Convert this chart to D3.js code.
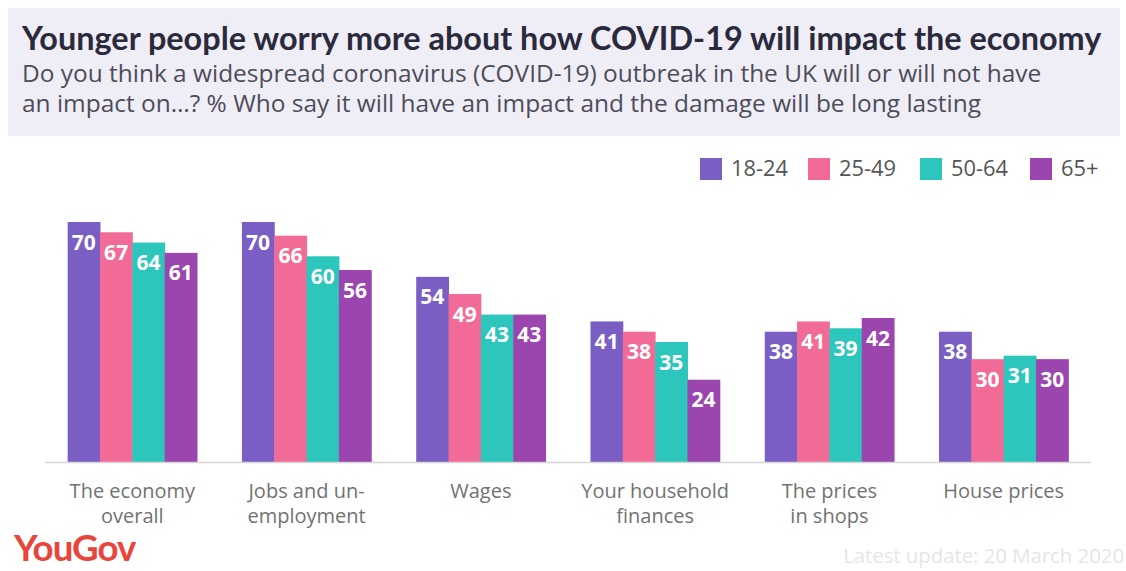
<!DOCTYPE html>
<html>
<head>
<meta charset="utf-8">
<script src="https://cdn.jsdelivr.net/npm/d3@7"></script>
<style>
  html, body { margin: 0; padding: 0; background: #fff; }
  svg { display: block; font-family: "Open Sans", Lato, sans-serif; }
</style>
</head>
<body>
<svg id="chart" width="1126" height="571"></svg>
<script>
// Survey categories and age groups
const categories = [
  ["The economy", "overall"],
  ["Jobs and un-", "employment"],
  ["Wages"],
  ["Your household", "finances"],
  ["The prices", "in shops"],
  ["House prices"]
];
const ageGroups = ["18-24", "25-49", "50-64", "65+"];
const colors = ["#7a5ec4", "#f26b96", "#2cc6bd", "#9b45ae"];

// % who say impact will be long lasting, per age group
const age18to24 = [70, 70, 54, 41, 38, 38];
const age25to49 = [67, 66, 49, 38, 41, 30];
const age50to64 = [64, 60, 43, 35, 39, 31];
const age65plus = [61, 56, 43, 24, 42, 30];
const seriesValues = [age18to24, age25to49, age50to64, age65plus];

const svg = d3.select("#chart");

// Header panel
svg.append("rect")
  .attr("x", 8).attr("y", 8).attr("width", 1112).attr("height", 128)
  .attr("fill", "#efeef6");

// Scale a text's font size so it spans the given width
function fitSize(sel, width) {
  const w = sel.node().getComputedTextLength();
  const fs = parseFloat(sel.attr("font-size"));
  return fs * width / w;
}

const title = svg.append("text")
  .attr("x", 22).attr("y", 50)
  .attr("font-family", "Lato, sans-serif")
  .attr("font-size", 27).attr("font-weight", 700).attr("fill", "#2b2a3d")
  .text("Younger people worry more about how COVID-19 will impact the economy");
title.attr("font-size", fitSize(title, 1080));

const sub1 = svg.append("text")
  .attr("x", 22).attr("y", 82)
  .attr("font-size", 22).attr("fill", "#4d4c5a")
  .text("Do you think a widespread coronavirus (COVID-19) outbreak in the UK will or will not have");
sub1.attr("font-size", fitSize(sub1, 1020));
svg.append("text")
  .attr("x", 22).attr("y", 112)
  .attr("font-size", sub1.attr("font-size")).attr("fill", "#4d4c5a")
  .text("an impact on\u2026? % Who say it will have an impact and the damage will be long lasting");

// Scales
const baseY = 462;
const x0 = d3.scaleBand()
  .domain(d3.range(categories.length))
  .range([45, 1091])
  .paddingInner(0.258)
  .paddingOuter(0.13);
const x1 = d3.scaleBand()
  .domain(d3.range(ageGroups.length))
  .range([0, x0.bandwidth()]);
const y = d3.scaleLinear().domain([0, 70]).range([baseY, 222]);

// Bars
const groups = svg.append("g").selectAll("g")
  .data(categories)
  .join("g")
  .attr("transform", (d, i) => `translate(${x0(i)},0)`);

groups.selectAll("rect")
  .data((d, i) => seriesValues.map((s, k) => ({ k, v: s[i] })))
  .join("rect")
  .attr("x", d => x1(d.k))
  .attr("y", d => y(d.v))
  .attr("width", x1.bandwidth() + 0.5)
  .attr("height", d => baseY - y(d.v))
  .attr("fill", d => colors[d.k]);

groups.selectAll("text.val")
  .data((d, i) => seriesValues.map((s, k) => ({ k, v: s[i] })))
  .join("text")
  .attr("class", "val")
  .attr("x", d => x1(d.k) + x1.bandwidth() / 2)
  .attr("y", d => y(d.v) + 27.5)
  .attr("text-anchor", "middle")
  .attr("font-size", 21).attr("font-weight", 700).attr("fill", "#fff")
  .text(d => d.v);

// Baseline
svg.append("line")
  .attr("x1", 45).attr("x2", 1091)
  .attr("y1", baseY + 0.5).attr("y2", baseY + 0.5)
  .attr("stroke", "#d6d6d6").attr("stroke-width", 1.5);

// Category labels
const catLabels = svg.append("g").selectAll("text")
  .data(categories)
  .join("text")
  .attr("x", (d, i) => x0(i) + x0.bandwidth() / 2)
  .attr("y", 498)
  .attr("text-anchor", "middle")
  .attr("font-size", 20).attr("fill", "#727272");
catLabels.selectAll("tspan")
  .data(d => d)
  .join("tspan")
  .attr("x", function () { return d3.select(this.parentNode).attr("x"); })
  .attr("dy", (d, i) => i === 0 ? 0 : 25)
  .text(d => d);

// Legend
const legendX = [700, 808, 920, 1030];
const legend = svg.append("g").selectAll("g")
  .data(ageGroups)
  .join("g")
  .attr("transform", (d, i) => `translate(${legendX[i]},158)`);
legend.append("rect")
  .attr("width", 22).attr("height", 22)
  .attr("fill", (d, i) => colors[i]);
const legendText = legend.append("text")
  .attr("x", 31).attr("y", 18)
  .attr("font-size", 18).attr("fill", "#555")
  .text(d => d);
legendText.attr("font-size", fitSize(legendText.filter((d, i) => i === 0), 57));

// Branding and date
const brand = svg.append("text")
  .attr("x", 14).attr("y", 561)
  .attr("font-family", "Lato, sans-serif")
  .attr("font-size", 30).attr("font-weight", 700).attr("fill", "#e8463c")
  .attr("letter-spacing", -1)
  .text("YouGov");
brand.attr("font-size", fitSize(brand, 120));
const stamp = svg.append("text")
  .attr("x", 1124).attr("y", 563)
  .attr("text-anchor", "end")
  .attr("font-size", 18).attr("fill", "#e6e6e6")
  .text("Latest update: 20 March 2020");
stamp.attr("font-size", fitSize(stamp, 281));
</script>
</body>
</html>
